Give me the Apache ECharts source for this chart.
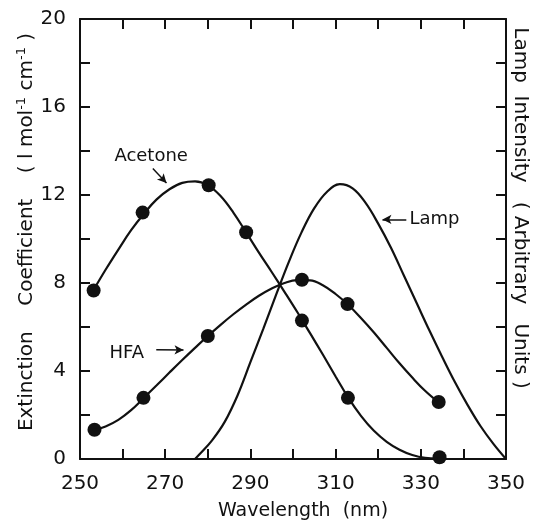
<!DOCTYPE html>
<html>
<head>
<meta charset="utf-8">
<script src="https://cdn.jsdelivr.net/npm/echarts@6/dist/echarts.min.js"></script>
<style>html,body{margin:0;padding:0;background:#fff;}#c{width:541px;height:521px;}</style>
</head>
<body>
<div id="c"></div>
<script>
// Measured points (markers)
const acetoneX = [253.2, 264.7, 280.2, 289.0, 302.1, 312.9, 334.4];
const acetoneY = [7.66, 11.2, 12.44, 10.31, 6.29, 2.78, 0.08];
const hfaX = [253.4, 264.9, 280.0, 302.1, 312.8, 334.2];
const hfaY = [1.33, 2.78, 5.59, 8.15, 7.04, 2.59];

// Traced fitted curves (every 3 nm)
const curveX = [253, 256, 259, 262, 265, 268, 271, 274, 277, 280, 283, 286, 289, 292, 295, 298, 301, 304, 307, 310, 313, 316, 319, 322, 325, 328, 331, 334];
const acetoneCurveY = [7.62, 8.6, 9.52, 10.4, 11.15, 11.8, 12.26, 12.55, 12.62, 12.45, 11.95, 11.2, 10.3, 9.38, 8.5, 7.6, 6.68, 5.72, 4.75, 3.75, 2.78, 1.95, 1.28, 0.78, 0.42, 0.18, 0.05, 0.02];
const hfaCurveY = [1.3, 1.48, 1.78, 2.22, 2.78, 3.35, 3.93, 4.5, 5.05, 5.59, 6.1, 6.58, 7.02, 7.42, 7.75, 8.0, 8.13, 8.12, 7.9, 7.5, 7.0, 6.4, 5.75, 5.05, 4.35, 3.7, 3.1, 2.6];
const lampCurveX = [277, 278, 281, 284, 287, 290, 293, 296, 299, 302, 305, 308, 311, 314, 317, 320, 323, 326, 329, 332, 335, 338, 341, 344, 347, 350];
const lampCurveY = [0, 0.2, 0.85, 1.7, 2.9, 4.4, 5.9, 7.45, 8.95, 10.3, 11.4, 12.15, 12.49, 12.3, 11.65, 10.7, 9.6, 8.35, 7.1, 5.85, 4.65, 3.5, 2.45, 1.5, 0.7, 0];

const xLabels = [250, 270, 290, 310, 330, 350];
const yLabels = [0, 4, 8, 12, 16, 20];

const zip = (xs, ys) => xs.map((x, i) => [x, ys[i]]);
const FONT = 'DejaVu Sans';
const BLACK = '#111';

const xBase = {
  type: 'value', min: 250, max: 350, interval: 10,
  axisLine: { onZero: false, lineStyle: { color: BLACK, width: 2 } },
  axisTick: { inside: true, length: 10, lineStyle: { color: BLACK, width: 2 } },
  splitLine: { show: false }
};
const yBase = {
  type: 'value', min: 0, max: 20, interval: 2,
  axisLine: { onZero: false, lineStyle: { color: BLACK, width: 2 } },
  axisTick: { inside: true, length: 10, lineStyle: { color: BLACK, width: 2 } },
  splitLine: { show: false }
};

const arrowLine = (a, b) => ({
  silent: true, symbol: ['none', 'arrow'], symbolSize: [7, 9],
  lineStyle: { color: BLACK, width: 1.5, type: 'solid' },
  label: { show: false },
  data: [[{ coord: a }, { coord: b }]]
});
const textMark = (pos, txt) => ({
  silent: true, symbol: 'circle', symbolSize: 0,
  label: { show: true, position: 'inside', formatter: txt, color: BLACK, fontSize: 18, fontFamily: FONT },
  data: [{ coord: pos }]
});
const curveStyle = { color: BLACK, width: 2.2 };

const chart = echarts.init(document.getElementById('c'), null, { renderer: 'canvas' });
chart.setOption({
  animation: false,
  backgroundColor: '#fff',
  grid: { left: 80, right: 35, top: 19, bottom: 62, containLabel: false, outerBoundsMode: 'none' },
  xAxis: [
    Object.assign({}, xBase, {
      position: 'bottom',
      name: 'Wavelength  (nm)', nameLocation: 'middle', nameGap: 43, nameMoveOverlap: false,
      nameTextStyle: { color: BLACK, fontSize: 19, fontFamily: FONT, padding: [0, 0, 0, 20] },
      axisLabel: { color: BLACK, fontSize: 20, fontFamily: FONT, margin: 15,
        formatter: v => xLabels.includes(Math.round(v)) ? String(Math.round(v)) : '' }
    }),
    Object.assign({}, xBase, { position: 'top', axisLabel: { show: false } })
  ],
  yAxis: [
    Object.assign({}, yBase, {
      position: 'left',
      name: '{n|Extinction    Coefficient    ( l mol}{s|-1}{n| cm}{s|-1}{n| )}',
      nameLocation: 'middle', nameGap: 42, nameRotate: 90, nameMoveOverlap: false,
      nameTextStyle: { padding: [0, 0, 0, 14], rich: {
        n: { color: BLACK, fontSize: 20, fontFamily: FONT },
        s: { color: BLACK, fontSize: 13, fontFamily: FONT, verticalAlign: 'top', padding: [0, 0, 10, 0] }
      } },
      axisLabel: { color: BLACK, fontSize: 20, fontFamily: FONT, margin: 14,
        formatter: v => yLabels.includes(Math.round(v)) ? String(Math.round(v)) : '' }
    }),
    Object.assign({}, yBase, {
      position: 'right', axisLabel: { show: false },
      name: 'Lamp  Intensity   ( Arbitrary   Units )',
      nameLocation: 'middle', nameGap: 4, nameRotate: -90, nameMoveOverlap: false,
      nameTextStyle: { color: BLACK, fontSize: 20, fontFamily: FONT, padding: [0, 62, 0, 0] }
    })
  ],
  series: [
    { name: 'Acetone curve', type: 'line', data: zip(curveX, acetoneCurveY), smooth: 0.4,
      symbol: 'none', lineStyle: curveStyle,
      markPoint: textMark([266.7, 13.78], 'Acetone'),
      markLine: arrowLine([267.1, 13.2], [270.3, 12.55]) },
    { name: 'HFA curve', type: 'line', data: zip(curveX, hfaCurveY), smooth: 0.4,
      symbol: 'none', lineStyle: curveStyle,
      markPoint: textMark([261.0, 4.82], 'HFA'),
      markLine: arrowLine([267.9, 4.97], [274.3, 4.95]) },
    { name: 'Lamp', type: 'line', data: zip(lampCurveX, lampCurveY), smooth: 0.4,
      symbol: 'none', lineStyle: curveStyle,
      markPoint: textMark([333.2, 10.89], 'Lamp'),
      markLine: arrowLine([326.6, 10.89], [321.0, 10.89]) },
    { name: 'Acetone', type: 'scatter', data: zip(acetoneX, acetoneY), symbolSize: 14,
      itemStyle: { color: BLACK, opacity: 1 } },
    { name: 'HFA', type: 'scatter', data: zip(hfaX, hfaY), symbolSize: 14,
      itemStyle: { color: BLACK, opacity: 1 } }
  ]
});
</script>
</body>
</html>
